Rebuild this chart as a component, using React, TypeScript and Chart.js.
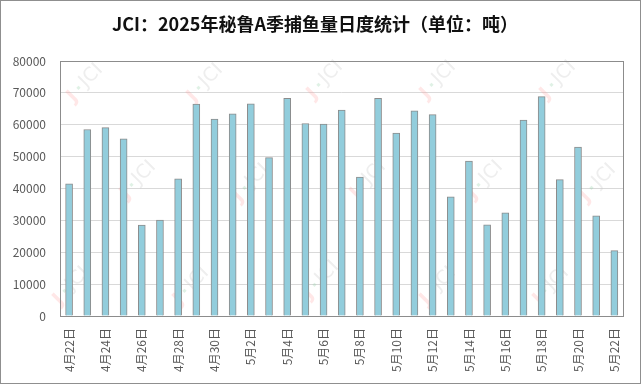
import { useEffect, useRef } from 'react';
import { Chart, registerables } from 'chart.js';

Chart.register(...registerables);

const titleText = 'JCI：2025年秘鲁A季捕鱼量日度统计（单位：吨）';

const categories = [
  '4月22日', '4月23日', '4月24日', '4月25日', '4月26日', '4月27日', '4月28日', '4月29日', '4月30日',
  '5月1日', '5月2日', '5月3日', '5月4日', '5月5日', '5月6日', '5月7日', '5月8日', '5月9日', '5月10日',
  '5月11日', '5月12日', '5月13日', '5月14日', '5月15日', '5月16日', '5月17日', '5月18日', '5月19日',
  '5月20日', '5月21日', '5月22日',
];

const catchTons = [
  41500, 58500, 59100, 55600, 28500, 30100, 43000, 66500, 61800,
  63400, 66600, 49700, 68300, 60400, 60200, 64600, 43600, 68300, 57400,
  64400, 63200, 37400, 48600, 28600, 32400, 61500, 68800, 42800,
  53000, 31400, 20500,
];

const yMin = 0;
const yMax = 80000;
const yStep = 10000;

const watermarkSpots = [
  [87, 80], [207, 80], [327, 77], [440, 77], [560, 77],
  [140, 177], [253, 180], [370, 177], [487, 177], [600, 180],
  [73, 283], [193, 283], [323, 277], [440, 283], [553, 283],
];

const decorPlugin = {
  id: 'decor',
  beforeDatasetsDraw(chart: any) {
    const ctx = chart.ctx;
    ctx.save();
    for (const [x, y] of watermarkSpots) {
      ctx.save();
      ctx.translate(x, y);
      ctx.rotate(-Math.PI / 4);
      ctx.textAlign = 'center';
      ctx.textBaseline = 'middle';
      ctx.font = 'bold 19px "DejaVu Sans"';
      ctx.fillStyle = 'rgba(255,160,160,0.25)';
      ctx.fillText('J', -22, 2);
      ctx.fillStyle = 'rgba(150,210,170,0.3)';
      ctx.fillRect(-13, -2, 3, 3);
      ctx.font = '19px "DejaVu Sans"';
      ctx.fillStyle = 'rgba(205,205,205,0.35)';
      ctx.fillText('JCI', 6, 0);
      ctx.restore();
    }
    ctx.restore();
  },
  afterDraw(chart: any) {
    const ctx = chart.ctx;
    const a = chart.chartArea;
    ctx.save();
    ctx.strokeStyle = '#8c8c8c';
    ctx.lineWidth = 1;
    ctx.strokeRect(Math.round(a.left) + 0.5, Math.round(a.top) + 0.5, Math.round(a.right - a.left), Math.round(a.bottom - a.top));
    ctx.strokeStyle = '#8f8f8f';
    ctx.strokeRect(0.5, 0.5, chart.width - 1, chart.height - 1);
    ctx.fillStyle = '#111111';
    ctx.font = 'bold 18px "Noto Sans CJK SC"';
    ctx.textAlign = 'center';
    ctx.textBaseline = 'middle';
    ctx.fillText(titleText, 315, 24);
    ctx.restore();
  },
};

export default function App() {
  const ref = useRef<HTMLCanvasElement | null>(null);
  useEffect(() => {
    if (!ref.current) return;
    const chart = new Chart(ref.current, {
      type: 'bar',
      data: {
        labels: categories,
        datasets: [
          {
            data: catchTons,
            backgroundColor: '#92cddc',
            borderColor: '#8c8c8c',
            borderWidth: 1,
            barThickness: 7,
          },
        ],
      },
      options: {
        animation: false,
        responsive: false,
        devicePixelRatio: 1,
        layout: { padding: { top: 61, right: 15, bottom: 0, left: 0 } },
        plugins: {
          legend: { display: false },
          title: { display: false },
          tooltip: { enabled: false },
        },
        scales: {
          x: {
            grid: { display: false, drawTicks: false },
            border: { display: false },
            afterFit: (s: any) => { s.height = 68; },
            ticks: {
              autoSkip: false,
              minRotation: 90,
              maxRotation: 90,
              padding: 12,
              color: '#595959',
              font: { size: 12, family: '"Noto Sans CJK SC"' },
              callback: (_v: any, i: number) => (i % 2 === 0 ? categories[i] : ''),
            },
          },
          y: {
            min: yMin,
            max: yMax,
            grid: { color: '#d9d9d9', drawTicks: false },
            border: { display: false },
            afterFit: (s: any) => { s.width = 60; },
            ticks: {
              stepSize: yStep,
              padding: 14,
              color: '#595959',
              font: { size: 12, family: '"Noto Sans CJK SC"' },
              callback: (v: any) => String(v),
            },
          },
        },
      },
      plugins: [decorPlugin],
    });
    return () => chart.destroy();
  }, []);
  return (
    <div style={{ position: 'fixed', left: 0, top: 0, width: 641, height: 384, background: '#fff' }}>
      <canvas ref={ref} width={641} height={384} />
    </div>
  );
}
